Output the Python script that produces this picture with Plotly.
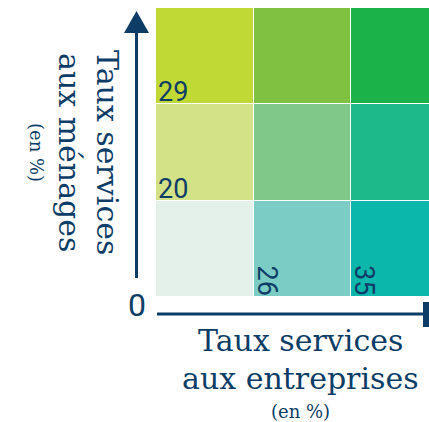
import plotly.graph_objects as go

# bivariate legend: rows = ménages (low -> high), cols = entreprises (low -> high)
col_classes = ["bas", "moyen", "haut"]
row_classes = ["bas", "moyen", "haut"]
cell_colors = [
    ["#E4F1EA", "#7BCCC4", "#0BB6AA"],  # bas
    ["#D3E286", "#80C78A", "#1DB98A"],  # moyen
    ["#C1D935", "#7FC241", "#1BB24A"],  # haut
]
x_breaks = [26, 35]
y_breaks = [20, 29]

W, H = 429, 422
NAVY = "#0D3D66"
TITLE_FONT = "DejaVu Serif"
NUM_FONT = "Roboto"


def px(x):
    return x / W


def py(y):
    return 1 - y / H


# flatten colors into an index grid + discrete colorscale
z = []
flat = []
for r, row in enumerate(cell_colors):
    z.append([])
    for c, col in enumerate(row):
        z[-1].append(len(flat))
        flat.append(col)
n = len(flat) - 1
colorscale = [[i / n, col] for i, col in enumerate(flat)]

fig = go.Figure(go.Heatmap(
    z=z,
    x=list(range(len(col_classes))),
    y=list(range(len(row_classes))),
    zmin=0, zmax=n,
    colorscale=colorscale,
    showscale=False,
    xgap=1, ygap=1,
    hoverinfo="skip",
))

annotations = []
# y break labels, sitting above the row boundaries
for i, v in enumerate(y_breaks):
    annotations.append(dict(
        x=-0.5, y=i + 0.5, xref="x", yref="y", text=str(v), showarrow=False,
        xanchor="left", yanchor="bottom", yshift=-6,
        font=dict(family=NUM_FONT, size=27, color=NAVY),
    ))
# x break labels, rotated, to the right of the column boundaries
for i, v in enumerate(x_breaks):
    annotations.append(dict(
        x=i + 0.5, y=-0.5, xref="x", yref="y", text=str(v), showarrow=False,
        xanchor="left", yanchor="bottom", textangle=90, xshift=-5,
        font=dict(family=NUM_FONT, size=27, color=NAVY),
    ))
# origin
annotations.append(dict(
    x=px(137), y=py(305), xref="paper", yref="paper", text="0", showarrow=False,
    xanchor="center", yanchor="middle",
    font=dict(family=NUM_FONT, size=32, color=NAVY),
))
# y title (rotated)
for text, cx, size in [("Taux services", 107, 30), ("aux ménages", 69, 30), ("(en %)", 36, 18)]:
    annotations.append(dict(
        x=px(cx), y=py(152), xref="paper", yref="paper", text=text, showarrow=False,
        xanchor="center", yanchor="middle", textangle=90,
        font=dict(family=TITLE_FONT, size=size, color=NAVY),
    ))
# x title
for text, cy, size in [("Taux services", 340, 30), ("aux entreprises", 378, 30), ("(en %)", 411, 18)]:
    annotations.append(dict(
        x=px(300), y=py(cy), xref="paper", yref="paper", text=text, showarrow=False,
        xanchor="center", yanchor="middle",
        font=dict(family=TITLE_FONT, size=size, color=NAVY),
    ))

shapes = [
    # vertical axis with arrow head
    dict(type="line", xref="paper", yref="paper", x0=px(136.5), x1=px(136.5),
         y0=py(278), y1=py(32), line=dict(color=NAVY, width=3)),
    dict(type="path", xref="paper", yref="paper",
         path=f"M {px(124)},{py(33)} L {px(136.5)},{py(11)} L {px(149)},{py(33)} Z",
         fillcolor=NAVY, line=dict(width=0)),
    # horizontal axis with end bar
    dict(type="line", xref="paper", yref="paper", x0=px(157), x1=px(424),
         y0=py(314), y1=py(314), line=dict(color=NAVY, width=3)),
    dict(type="rect", xref="paper", yref="paper", x0=px(423), x1=px(429),
         y0=py(327), y1=py(302), fillcolor=NAVY, line=dict(width=0)),
]

# the last column runs past the right edge of the picture
cell_px = 97.5
x_end = -0.5 + (W - 156) / cell_px

fig.update_layout(
    width=W, height=H,
    margin=dict(l=0, r=0, t=0, b=0),
    paper_bgcolor="white", plot_bgcolor="white",
    xaxis=dict(domain=[px(156), 1], range=[-0.5, x_end], visible=False, fixedrange=True),
    yaxis=dict(domain=[py(297), py(8)], range=[-0.5, 2.5], visible=False, fixedrange=True),
    annotations=annotations,
    shapes=shapes,
    showlegend=False,
)

fig.write_html("out.html", config={"displayModeBar": False},
               post_script="document.body.style.margin='0';document.body.style.overflow='hidden';")
